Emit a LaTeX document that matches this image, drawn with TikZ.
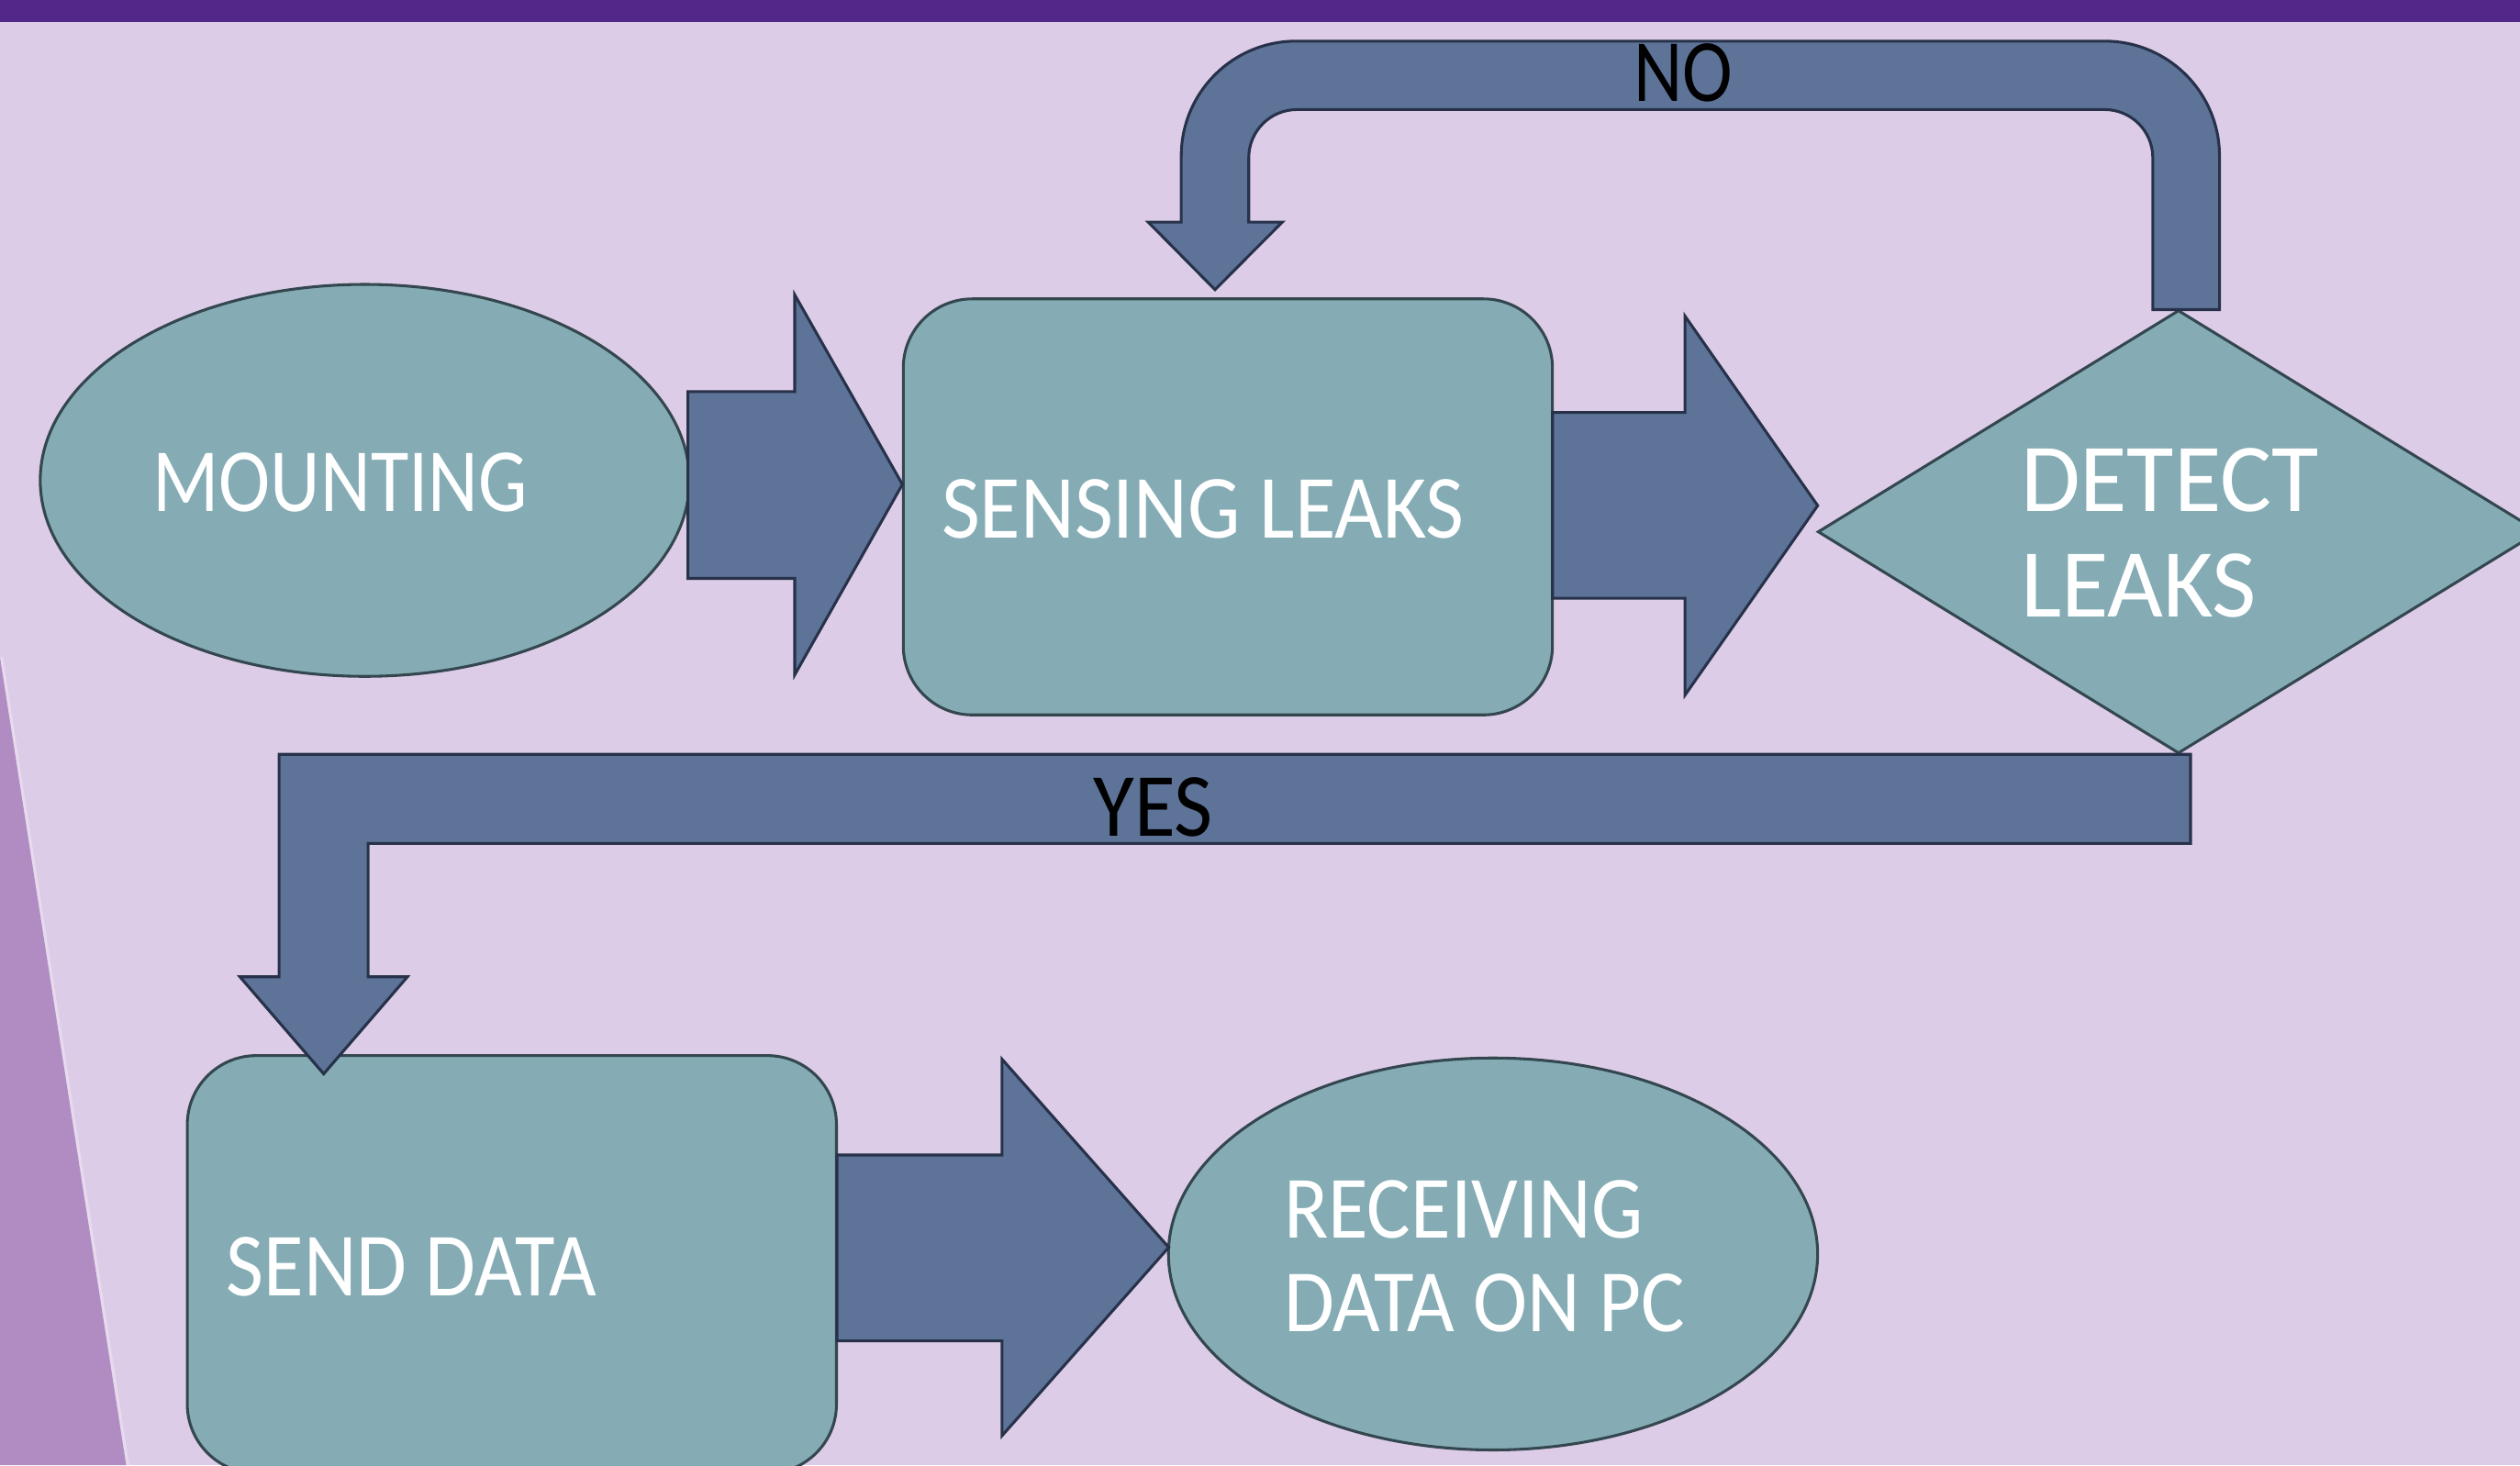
\documentclass[tikz,border=0pt]{standalone}
\usepackage{fontspec}
\usepackage{graphicx}
\setmainfont{Carlito}
\usetikzlibrary{shapes.geometric}
\definecolor{bgc}{HTML}{DCCCE7}
\definecolor{barc}{HTML}{51278A}
\definecolor{wedgec}{HTML}{B18CC3}
\definecolor{shapefill}{HTML}{85ACB5}
\definecolor{shapeline}{HTML}{34474F}
\definecolor{arrowfill}{HTML}{5E7398}
\definecolor{arrowline}{HTML}{27324A}
\newcommand\sxtxt[2]{\scalebox{#1}[1]{#2}}
\tikzset{
  flowshape/.style={fill=shapefill, draw=shapeline, line width=1pt, inner sep=0pt},
  ovalbox/.style={flowshape, ellipse, minimum width=8.08cm, minimum height=4.88cm},
  roundbox/.style={flowshape, rectangle, rounded corners=0.86cm, minimum width=8.08cm},
  decisionbox/.style={flowshape, diamond, minimum width=8.98cm, minimum height=5.52cm},
  blockarrow/.style={fill=arrowfill, draw=arrowline, line width=1pt, line join=miter},
  whitetxt/.style={text=white, inner sep=0pt, font=\fontsize{32pt}{36pt}\selectfont},
  blacktxt/.style={text=black, inner sep=0pt, font=\fontsize{32pt}{36pt}\selectfont}
}
\begin{document}
\begin{tikzpicture}[x=0.02cm, y=-0.02cm]
\useasboundingbox (0,0) rectangle (1568,912);
% background
\fill[bgc] (0,0) rectangle (1568,912);
\fill[barc] (0,0) rectangle (1568,13.7);
\fill[wedgec] (0,409) -- (78.5,912) -- (0,912) -- cycle;
\draw[white, opacity=0.3, line width=1pt] (0.9,409) -- (79.6,912);

% shapes
\node[ovalbox] (mount) at (227,299) {};
\node[roundbox, minimum height=5.18cm] (sense) at (764,315.5) {};
\node[decisionbox] (detect) at (1355.5,331) {};
\node[roundbox, minimum height=5.2cm] (send) at (318.5,787) {};
\node[ovalbox] (recv) at (929,780.5) {};

% connectors (block arrows)
\coordinate (t1) at (561.5,301.5);
\draw[blockarrow] (428,243.8) -- (494.5,243.8) -- (494.5,183.5) -- (t1)
  -- (494.5,420) -- (494.5,360) -- (428,360) -- cycle;
\coordinate (t2) at (1131,314.7);
\draw[blockarrow] (966,256.7) -- (1048.4,256.7) -- (1048.4,196.7) -- (t2)
  -- (1048.4,432.7) -- (1048.4,372.4) -- (966,372.4) -- cycle;
\coordinate (t3) at (727.2,776.4);
\draw[blockarrow] (520.8,718.9) -- (623.5,718.9) -- (623.5,659.3) -- (t3)
  -- (623.5,893.6) -- (623.5,834.6) -- (520.8,834.6) -- cycle;
% NO loop
\coordinate (tno) at (756,180.3);
\draw[blockarrow] (1381,192.7) -- (1381,97.1)
  .. controls (1381,57.6) and (1349,25.6) .. (1309.5,25.6)
  -- (806.5,25.6)
  .. controls (767,25.6) and (735,57.6) .. (735,97.1)
  -- (735,138.3) -- (714.5,138.3) -- (tno) -- (797.8,138.3) -- (777,138.3)
  -- (777,98.2)
  .. controls (777,81.6) and (790.4,68.2) .. (807,68.2)
  -- (1309.5,68.2)
  .. controls (1326.1,68.2) and (1339.5,81.6) .. (1339.5,98.2)
  -- (1339.5,192.7) -- cycle;
% YES path
\coordinate (tyes) at (201.4,668.4);
\draw[blockarrow] (1363,469.5) -- (173.7,469.5) -- (173.7,608) -- (149.3,608)
  -- (tyes) -- (253.5,608) -- (229,608) -- (229,525) -- (1363,525) -- cycle;

% texts
\node[whitetxt, anchor=base] (mounttxt) at (211.6,318.5) {\sxtxt{0.86}{MOUNTING}};
\node[whitetxt, anchor=base] (sensetxt) at (748.5,335) {\sxtxt{0.925}{SENSING LEAKS}};
\node[whitetxt, anchor=base west, font=\fontsize{34.5pt}{38pt}\selectfont] (dettxta) at (1257,318.6) {\sxtxt{0.99}{DETECT}};
\node[whitetxt, anchor=base west, font=\fontsize{34.5pt}{38pt}\selectfont] (dettxtb) at (1257,384.2) {\sxtxt{0.99}{LEAKS}};
\node[whitetxt, anchor=base] (sendtxt) at (256,806.4) {\sxtxt{0.905}{SEND DATA}};
\node[whitetxt, anchor=base west, font=\fontsize{31.5pt}{35pt}\selectfont] (recvtxta) at (798.5,770.6) {\sxtxt{0.92}{RECEIVING}};
\node[whitetxt, anchor=base west, font=\fontsize{31.5pt}{35pt}\selectfont] (recvtxtb) at (798.5,828.7) {\sxtxt{0.92}{DATA ON PC}};
\node[blacktxt, anchor=base] (yestxt) at (717.6,520.2) {\sxtxt{0.93}{YES}};
\node[blacktxt, anchor=base, font=\fontsize{31.5pt}{35pt}\selectfont] (notxt) at (1047.5,62.9) {\sxtxt{0.85}{NO}};
\end{tikzpicture}
\end{document}
